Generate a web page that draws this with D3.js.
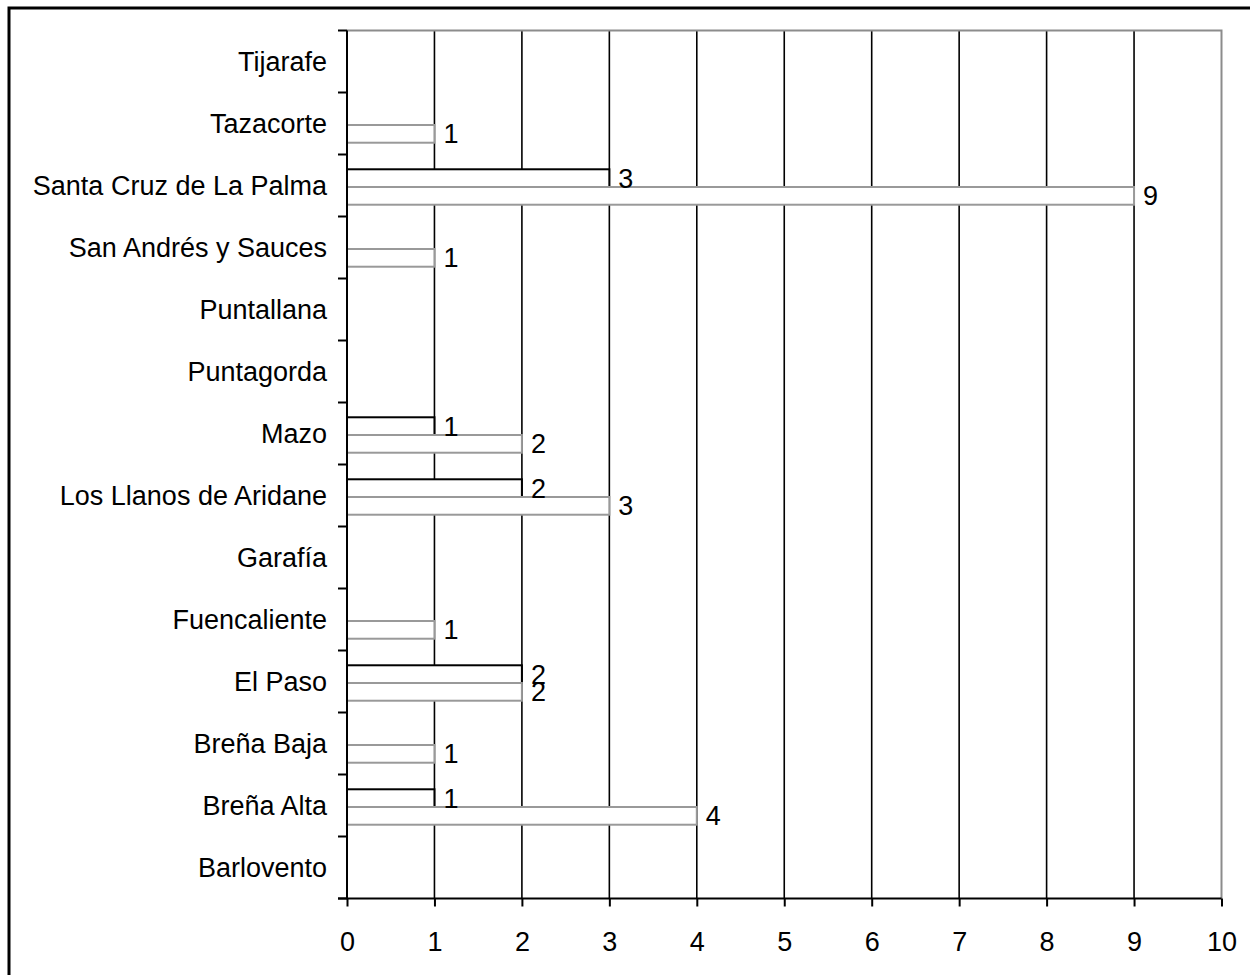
<!DOCTYPE html>
<html>
<head>
<meta charset="utf-8">
<script src="https://cdn.jsdelivr.net/npm/d3@7"></script>
<style>
  html, body { margin: 0; padding: 0; background: #fff; overflow: hidden; }
  svg { display: block; font-family: "Liberation Sans", Arial, sans-serif; }
</style>
</head>
<body>
<svg id="chart" width="1250" height="975"></svg>
<script>
// Categories, listed bottom to top as in the chart
const categories = [
  "Barlovento", "Breña Alta", "Breña Baja", "El Paso", "Fuencaliente",
  "Garafía", "Los Llanos de Aridane", "Mazo", "Puntagorda", "Puntallana",
  "San Andrés y Sauces", "Santa Cruz de La Palma", "Tazacorte", "Tijarafe"
];
const seriesNames = ["Serie 1", "Serie 2"];
// Black-outlined series (upper bar of each pair)
const serie1 = [0, 1, 0, 2, 0, 0, 2, 1, 0, 0, 0, 3, 0, 0];
// Grey-outlined series (lower bar of each pair)
const serie2 = [0, 4, 1, 2, 1, 0, 3, 2, 0, 0, 1, 9, 1, 0];
const xTicks = [0, 1, 2, 3, 4, 5, 6, 7, 8, 9, 10];
const seriesColors = ["#000000", "#999999"];

const svg = d3.select("#chart");
const pLeft = 347, pRight = 1221.5, pTop = 30.5, pBottom = 898.5;
const fontSize = 27;

// outer frame
svg.append("rect")
  .attr("x", 9).attr("y", 8).attr("width", 1260).attr("height", 990)
  .attr("fill", "none").attr("stroke", "#000").attr("stroke-width", 3);

const x = d3.scaleLinear().domain([0, 10]).range([pLeft, pRight]);
const y = d3.scaleBand().domain(categories.slice().reverse()).range([pTop, pBottom]);
const inner = d3.scaleBand().domain(seriesNames)
  .range([1.5, y.bandwidth() + 1.5]).paddingOuter(0.75).paddingInner(0);

// vertical gridlines
svg.append("g").selectAll("line")
  .data(xTicks.filter(d => d > 0 && d < 10))
  .join("line")
  .attr("x1", d => x(d)).attr("x2", d => x(d))
  .attr("y1", pTop).attr("y2", pBottom)
  .attr("stroke", "#000").attr("stroke-width", 1.6);

// plot area top and right border (grey)
svg.append("path")
  .attr("d", `M${pLeft},${pTop}H${pRight}V${pBottom}`)
  .attr("fill", "none").attr("stroke", "#8c8c8c").attr("stroke-width", 2);

// bars
const rows = categories.map((c, i) => ({ cat: c, vals: [serie1[i], serie2[i]] }));
const groups = svg.append("g").selectAll("g")
  .data(rows).join("g")
  .attr("transform", d => `translate(0,${y(d.cat)})`);

groups.selectAll("rect")
  .data(d => d.vals.map((v, k) => ({ v, k })).filter(e => e.v > 0))
  .join("rect")
  .attr("x", x(0))
  .attr("y", e => inner(seriesNames[e.k]))
  .attr("width", e => x(e.v) - x(0))
  .attr("height", inner.bandwidth())
  .attr("fill", "#fff")
  .attr("stroke", e => seriesColors[e.k])
  .attr("stroke-width", 2);

groups.selectAll("text")
  .data(d => d.vals.map((v, k) => ({ v, k })).filter(e => e.v > 0))
  .join("text")
  .attr("x", e => x(e.v) + 9)
  .attr("y", e => inner(seriesNames[e.k]) + inner.bandwidth() / 2 + 9.5)
  .attr("font-size", fontSize)
  .attr("fill", "#000")
  .text(e => e.v);

// x axis
const xAxis = svg.append("g")
  .attr("transform", `translate(0,${pBottom})`)
  .call(d3.axisBottom(x).tickValues(xTicks).tickFormat(d3.format("d"))
    .tickSize(8).tickSizeOuter(0).tickPadding(25));
xAxis.select(".domain").attr("stroke", "#000").attr("stroke-width", 2)
  .attr("d", `M${pLeft - 9},0H${pRight}`);
xAxis.selectAll(".tick line").attr("stroke", "#000").attr("stroke-width", 2);
xAxis.selectAll("text").attr("font-size", fontSize).attr("fill", "#000")
  .attr("font-family", "Liberation Sans, Arial, sans-serif");

// y axis (labels centred on bands, ticks on band boundaries)
const yAxis = svg.append("g")
  .attr("transform", `translate(${pLeft},0)`)
  .call(d3.axisLeft(y).tickSize(0).tickPadding(20));
yAxis.select(".domain").attr("stroke", "#000").attr("stroke-width", 2)
  .attr("d", `M0,${pTop}V${pBottom}`);
yAxis.selectAll("text").attr("font-size", fontSize).attr("fill", "#000")
  .attr("dy", "0.36em")
  .attr("font-family", "Liberation Sans, Arial, sans-serif");

const boundaries = categories.map(c => y(c)).concat([pBottom]);
svg.append("g").selectAll("line")
  .data(boundaries).join("line")
  .attr("x1", pLeft - 9).attr("x2", pLeft)
  .attr("y1", d => d).attr("y2", d => d)
  .attr("stroke", "#000").attr("stroke-width", 2);
</script>
</body>
</html>
